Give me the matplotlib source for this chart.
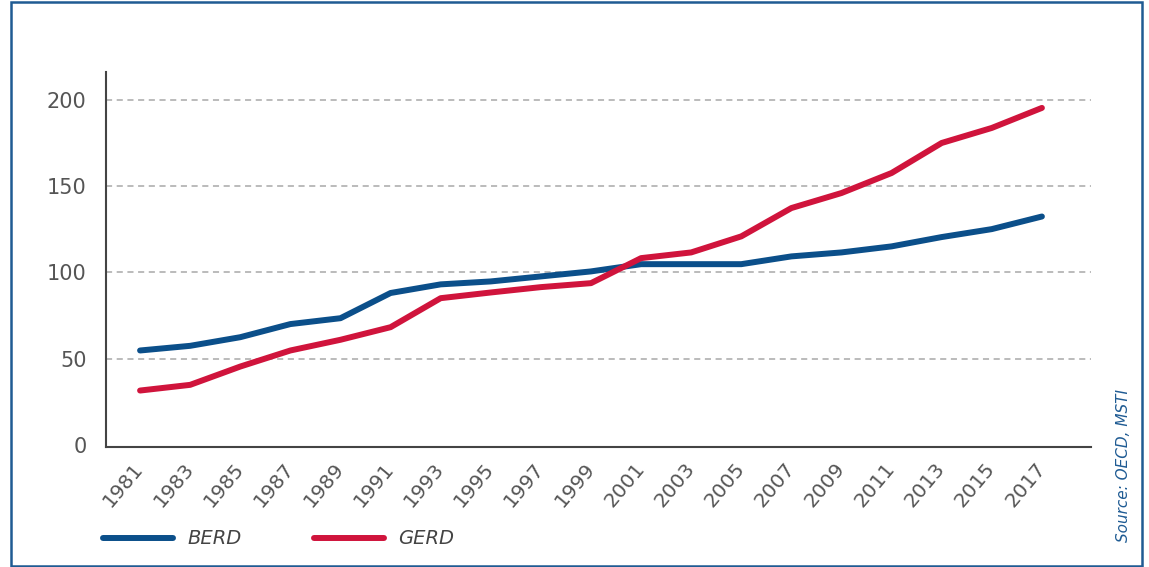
import numpy as np
import matplotlib.pyplot as plt
from matplotlib.patches import Rectangle

# BERD / GERD
annees = list(range(1981, 2018, 2))
berd = [54.7, 57.4, 62.4, 70.0, 73.4, 88.0, 93.0, 94.7, 97.6, 100.5,
        104.7, 104.7, 104.7, 109.2, 111.5, 115.0, 120.4, 125.0, 132.3]
gerd = [31.5, 34.8, 45.4, 54.7, 60.9, 68.2, 85.0, 88.3, 91.4, 93.7,
        108.2, 111.5, 120.8, 137.2, 145.9, 157.5, 174.9, 183.6, 195.2]
yticks = [0, 50, 100, 150, 200]

bleu = '#0b4f8a'
rouge = '#d0143c'
gris = '#555555'

fig = plt.figure(figsize=(11.49, 5.67), dpi=100)
ax = fig.add_axes([106/1149, 1-447/567, 985/1149, 375/567])

ax.plot(annees, berd, color=bleu, lw=4.3, solid_capstyle='round', label='BERD', zorder=3)
ax.plot(annees, gerd, color=rouge, lw=4.3, solid_capstyle='round', label='GERD', zorder=3)

ax.set_xlim(1979.64, 2018.96)
ax.set_ylim(-1.2, 216)

for y in yticks[1:]:
    ax.axhline(y, color='#a8a8a8', lw=1.1, linestyle=(0, (4, 3)), zorder=1)

ax.set_yticks(yticks)
ax.set_xticks(annees)
ax.set_xticklabels([str(a) for a in annees], rotation=50, ha='right',
                   va='center', rotation_mode='anchor')
ax.tick_params(axis='y', length=0, colors=gris, labelsize=15, pad=14)
ax.tick_params(axis='x', length=0, colors=gris, labelsize=14.5, pad=13)

for s in ['top', 'right']:
    ax.spines[s].set_visible(False)
for s in ['left', 'bottom']:
    ax.spines[s].set_color('#444444')
    ax.spines[s].set_linewidth(1.5)

leg = fig.legend(loc='center left', bbox_to_anchor=(103/1149, 1-539/567),
                 ncol=2, frameon=False, handlelength=3.6, handletextpad=0.75,
                 columnspacing=3.7, borderpad=0, borderaxespad=0,
                 prop={'size': 14, 'style': 'italic'})
for t in leg.get_texts():
    t.set_color('#444444')

fig.text(1123/1149, 1-465/567, 'Source: OECD, MSTI', rotation=90, color='#1f5b93',
         style='italic', fontsize=11, ha='center', va='center')

fig.patches.append(Rectangle((11/1149, 1-566/567), 1131/1149, 564/567,
                             transform=fig.transFigure, fill=False,
                             edgecolor='#1f5b93', lw=1.8))

fig.savefig('out.png', dpi=100)
